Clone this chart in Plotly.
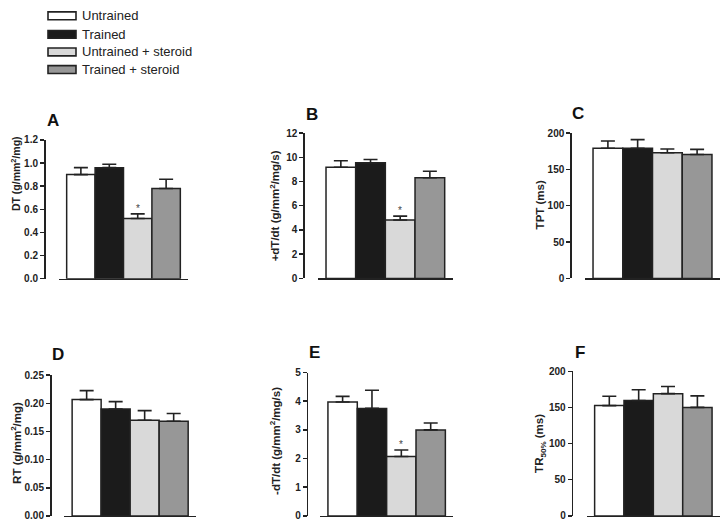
import plotly.graph_objects as go

W, H = 726, 531

groups = ["Untrained", "Trained", "Untrained + steroid", "Trained + steroid"]
colors = ["#ffffff", "#1b1b1b", "#d9d9d9", "#979797"]

panel_letters = ["A", "B", "C", "D", "E", "F"]
y_titles = [
    "DT (g/mm<sup>2</sup>/mg)",
    "+dT/dt (g/mm<sup>2</sup>/mg/s)",
    "TPT (ms)",
    "RT (g/mm<sup>2</sup>/mg)",
    "-dT/dt (g/mm<sup>2</sup>/mg/s)",
    "TR<sub>50%</sub> (ms)",
]

dt_mean = [0.90, 0.96, 0.52, 0.78]
dt_sem = [0.06, 0.03, 0.04, 0.08]
pdt_mean = [9.18, 9.55, 4.82, 8.31]
pdt_sem = [0.53, 0.27, 0.32, 0.54]
tpt_mean = [179, 179, 173, 170.5]
tpt_sem = [10, 12, 5, 7]
rt_mean = [0.2066, 0.190, 0.170, 0.168]
rt_sem = [0.016, 0.013, 0.017, 0.014]
ndt_mean = [3.97, 3.75, 2.07, 3.00]
ndt_sem = [0.20, 0.63, 0.23, 0.24]
tr50_mean = [152.5, 159.5, 169, 150]
tr50_sem = [13, 15, 10, 16]

means = [dt_mean, pdt_mean, tpt_mean, rt_mean, ndt_mean, tr50_mean]
sems = [dt_sem, pdt_sem, tpt_sem, rt_sem, ndt_sem, tr50_sem]
significant = [[2], [2], [], [], [2], []]

y_max = [1.2, 12, 200, 0.25, 5, 200]
y_dtick = [0.2, 2, 50, 0.05, 1, 50]
y_fmt = [".1f", "d", "d", ".2f", "d", "d"]

# layout geometry in pixels
yaxis_px = [44, 303.3, 570.3, 50, 306.7, 571.7]
xdom_px = [(59, 188), (318, 452.7), (585, 720), (64.3, 196), (320, 453.3), (586.7, 720)]
ydom_px = [(137, 279), (130, 278.7), (130, 278.7), (377.7, 521.7), (375, 521.7), (373.7, 521.7)]
letter_px = [(53, 117), (312, 111), (578, 110), (58, 357), (314, 354), (580, 354)]
ytitle_px = [(15, 172), (275, 205), (540, 204), (16, 447), (275, 445), (540, 448)]
ytitle_size = [10.5, 11.5, 11.5, 11.5, 11.5, 11.5]

FONT = "Arial, Liberation Sans, sans-serif"
AX = "#222222"

fig = go.Figure()
layout = dict(
    width=W, height=H, margin=dict(l=0, r=0, t=0, b=0),
    paper_bgcolor="white", plot_bgcolor="white",
    showlegend=False, font=dict(family=FONT, color="#111"),
    bargap=0, annotations=[], shapes=[],
)

for i in range(6):
    n = "" if i == 0 else str(i + 1)
    xa, ya = "x" + n, "y" + n
    fig.add_trace(go.Bar(
        x=list(range(4)), y=means[i],
        marker=dict(color=colors, line=dict(color=AX, width=1.5)),
        width=1,
        error_y=dict(type="data", array=sems[i], arrayminus=[0] * 4, symmetric=False,
                     color=AX, thickness=1.6, width=7),
        xaxis=xa, yaxis=ya, hoverinfo="skip",
    ))
    x0, x1 = xdom_px[i]
    yt, yb = ydom_px[i]
    layout["xaxis" + n] = dict(
        domain=[x0 / W, x1 / W], anchor=ya, range=[-0.77, 3.77],
        showline=True, linecolor=AX, linewidth=1.5, ticks="",
        showticklabels=False, showgrid=False, zeroline=False, fixedrange=True,
    )
    layout["yaxis" + n] = dict(
        domain=[1 - yb / H, 1 - yt / H], anchor="free", position=yaxis_px[i] / W,
        range=[0, y_max[i]], dtick=y_dtick[i], tick0=0, tickformat=y_fmt[i],
        showline=True, linecolor=AX, linewidth=1.5, ticks="outside", ticklen=4,
        tickwidth=1.5, tickcolor=AX, showgrid=False, zeroline=False,
        tickfont=dict(family=FONT, size=10, color="#222", weight="bold"),
        fixedrange=True,
    )
    lx, ly = letter_px[i]
    layout["annotations"].append(dict(
        text=panel_letters[i], x=lx / W, y=1 - ly / H, xref="paper", yref="paper",
        showarrow=False, font=dict(family=FONT, size=17, color="#111", weight="bold"),
        xanchor="center", yanchor="middle"))
    tx, ty = ytitle_px[i]
    layout["annotations"].append(dict(
        text=y_titles[i], x=tx / W, y=1 - ty / H, xref="paper", yref="paper",
        showarrow=False, textangle=-90,
        font=dict(family=FONT, size=ytitle_size[i], color="#222", weight="bold"),
        xanchor="center", yanchor="middle"))
    for k in significant[i]:
        layout["annotations"].append(dict(
            text="*", x=k, y=means[i][k] + sems[i][k], xref=xa, yref=ya,
            showarrow=False, font=dict(family=FONT, size=10, color="#444"),
            xanchor="center", yanchor="bottom", yshift=-2))

# legend
leg_y = [10, 29, 47, 65]
for g, c, yy in zip(groups, colors, leg_y):
    layout["shapes"].append(dict(
        type="rect", xref="paper", yref="paper",
        x0=48 / W, x1=76 / W, y0=1 - (yy + 4) / H, y1=1 - (yy - 4) / H,
        fillcolor=c, line=dict(color=AX, width=1.6)))
    layout["annotations"].append(dict(
        text=g, x=80 / W, y=1 - yy / H, xref="paper", yref="paper",
        showarrow=False, xanchor="left", yanchor="middle",
        font=dict(family=FONT, size=13, color="#222")))

fig.update_layout(**layout)
fig.write_html(
    "out.html",
    config={"displayModeBar": False, "staticPlot": True},
    post_script="document.body.style.margin='0';document.body.style.overflow='hidden';",
)
